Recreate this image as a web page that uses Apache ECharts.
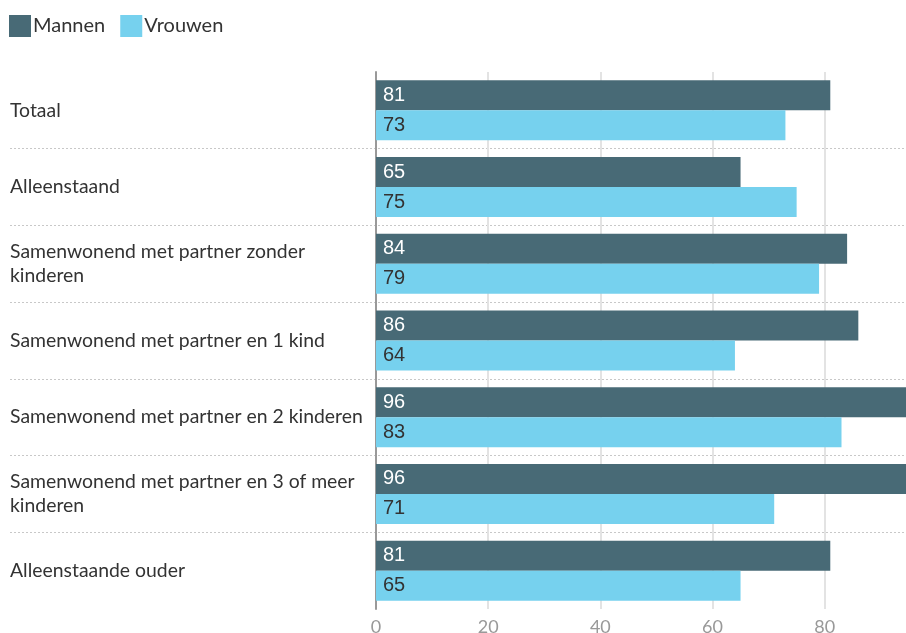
<!DOCTYPE html>
<html>
<head>
<meta charset="utf-8">
<script src="https://cdn.jsdelivr.net/npm/echarts@6/dist/echarts.min.js"></script>
<style>
  html, body { margin: 0; padding: 0; background: #fff; overflow: hidden; }
  #chart { width: 906px; height: 633px; }
</style>
</head>
<body>
<div id="chart"></div>
<script>
// categorieen en waarden
var categories = [
    'Totaal',
    'Alleenstaand',
    'Samenwonend met partner zonder\nkinderen',
    'Samenwonend met partner en 1 kind',
    'Samenwonend met partner en 2 kinderen',
    'Samenwonend met partner en 3 of meer\nkinderen',
    'Alleenstaande ouder'
];
var mannen = [81, 65, 84, 86, 96, 96, 81];
var vrouwen = [73, 75, 79, 64, 83, 71, 65];
var xTicks = [0, 20, 40, 60, 80];

var myChart = echarts.init(document.getElementById('chart'));

var gridTop = 72, gridHeight = 537;

var option = {
    animation: false,
    textStyle: { fontFamily: 'Lato' },
    legend: {
        left: 9,
        top: 15,
        padding: 0,
        itemWidth: 22,
        itemHeight: 22,
        itemGap: 15,
        icon: 'rect',
        textStyle: { fontSize: 20, color: '#333', fontFamily: 'Lato', padding: [0, 0, 0, -3] },
        data: ['Mannen', 'Vrouwen']
    },
    grid: [
        // labels + scheidingslijnen
        { left: 10, right: 0, top: gridTop, height: gridHeight, outerBoundsMode: 'none' },
        // balken
        { left: 376, right: 0, top: gridTop, height: gridHeight, outerBoundsMode: 'none' }
    ],
    xAxis: [
        { gridIndex: 0, type: 'value', show: false, min: 0, max: 1 },
        {
            gridIndex: 1,
            type: 'value',
            min: 0,
            max: 94.5,
            interval: 20,
            axisLine: { show: false },
            axisTick: { show: false },
            axisLabel: {
                color: '#999',
                fontSize: 18,
                fontFamily: 'Lato',
                margin: 9,
                formatter: function (v) {
                    return xTicks.indexOf(v) >= 0 ? String(v) : '';
                }
            },
            splitLine: {
                show: true,
                showMaxLine: false,
                lineStyle: { color: '#e3e3e3', width: 2 }
            }
        }
    ],
    yAxis: [
        {
            gridIndex: 0,
            type: 'category',
            inverse: true,
            data: categories,
            axisLine: { show: false },
            axisTick: { show: false },
            axisLabel: {
                inside: true,
                margin: 0,
                align: 'left',
                color: '#333',
                fontSize: 19.4,
                lineHeight: 24,
                fontFamily: 'Lato'
            },
            splitLine: {
                show: true,
                showMinLine: false,
                showMaxLine: false,
                lineStyle: { color: '#c8c8c8', width: 1, type: [2, 2] }
            }
        },
        {
            gridIndex: 1,
            type: 'category',
            inverse: true,
            data: categories,
            axisLine: { show: true, lineStyle: { color: '#999', width: 2 } },
            axisTick: { show: false },
            axisLabel: { show: false },
            splitLine: { show: false }
        }
    ],
    series: [
        {
            name: 'Mannen',
            type: 'bar',
            xAxisIndex: 1,
            yAxisIndex: 1,
            data: mannen,
            barWidth: 30,
            barGap: '0%',
            itemStyle: { color: '#486a76' },
            label: {
                show: true,
                position: 'insideLeft',
                distance: 7,
                color: '#fff',
                fontSize: 20,
                fontFamily: 'Liberation Sans'
            }
        },
        {
            name: 'Vrouwen',
            type: 'bar',
            xAxisIndex: 1,
            yAxisIndex: 1,
            data: vrouwen,
            barWidth: 30,
            barGap: '0%',
            itemStyle: { color: '#76d1ee' },
            label: {
                show: true,
                position: 'insideLeft',
                distance: 7,
                color: '#333',
                fontSize: 20,
                fontFamily: 'Liberation Sans'
            }
        }
    ]
};

myChart.setOption(option);
</script>
</body>
</html>
